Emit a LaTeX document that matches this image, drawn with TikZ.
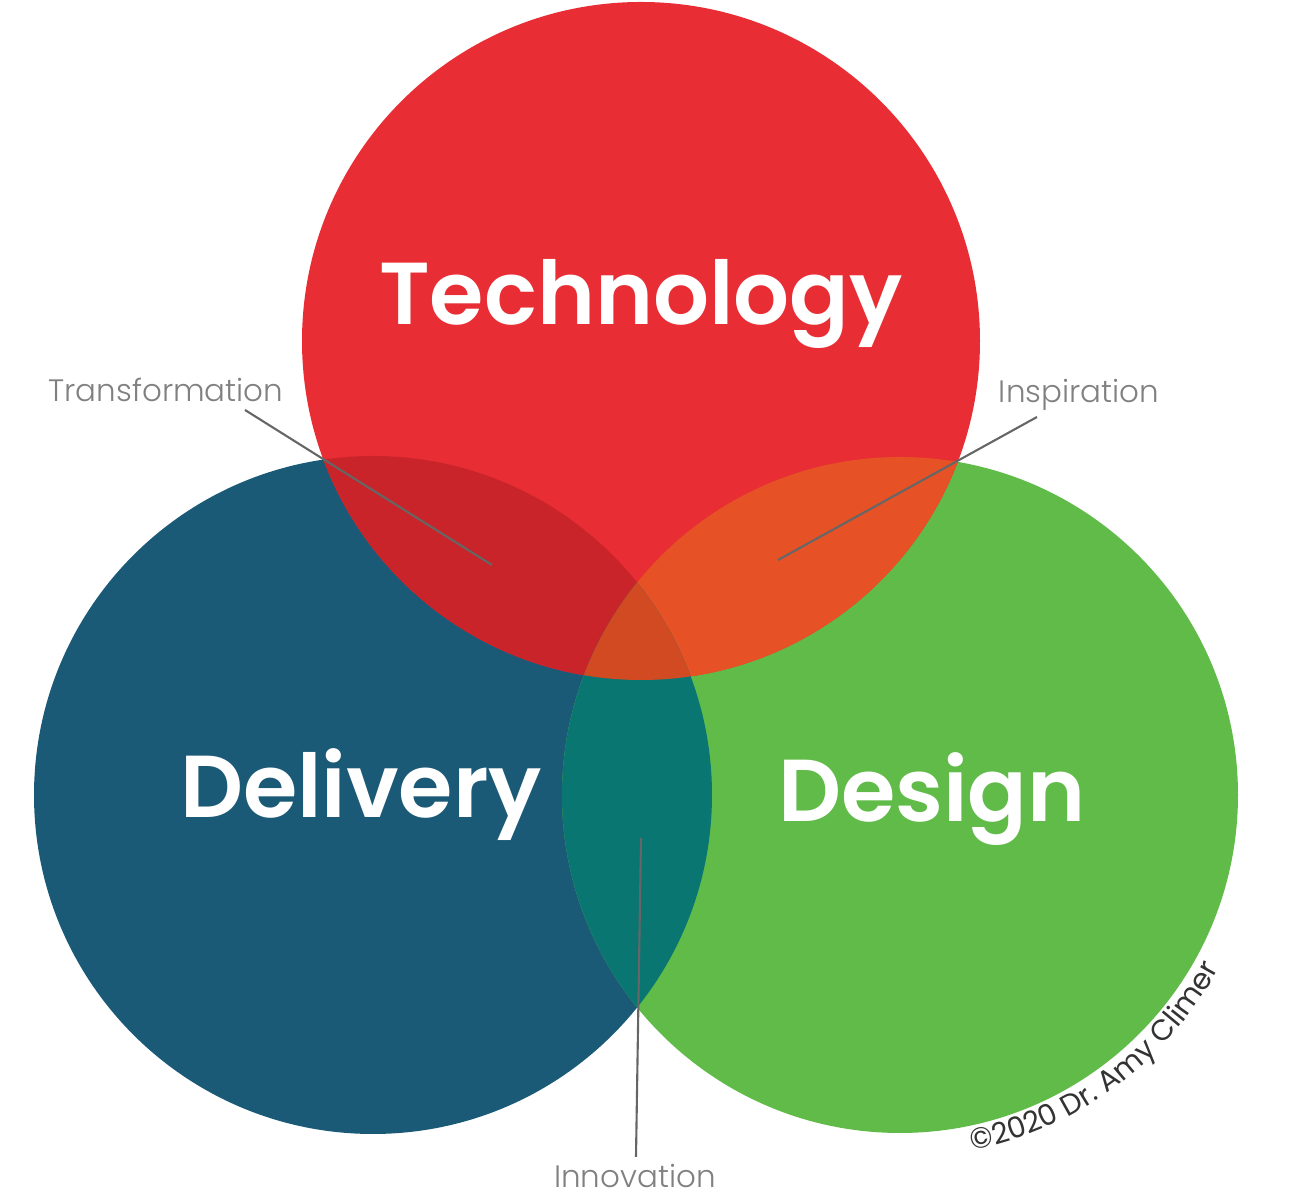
\documentclass[tikz,border=0pt]{standalone}
\usepackage{fontspec}
\setmainfont{Poppins}
\newfontfamily\headfont{Poppins SemiBold}
\newfontfamily\thinfont{Poppins Light}
\usepackage{tikz}
\usetikzlibrary{decorations.text}

\definecolor{techred}{RGB}{232,46,52}
\definecolor{delblue}{RGB}{27,90,119}
\definecolor{desgreen}{RGB}{96,187,72}
\definecolor{redblue}{RGB}{200,36,41}
\definecolor{redgreen}{RGB}{230,82,38}
\definecolor{bluegreen}{RGB}{9,118,114}
\definecolor{allthree}{RGB}{210,74,34}
\definecolor{leadgray}{RGB}{102,102,102}

\newcommand{\techcirc}{(641,859) circle[radius=339]}
\newcommand{\delcirc}{(373,405) circle[radius=339]}
\newcommand{\descirc}{(900,405) circle[radius=338]}

\begin{document}
\begin{tikzpicture}[x=0.01cm,y=0.01cm,
	head/.style={anchor=base,text=white,font=\headfont\fontsize{25}{30}\selectfont},
	small/.style={anchor=base,text=black!50,font=\thinfont\fontsize{8.8}{11}\selectfont},
	leader/.style={draw=leadgray,line width=0.6pt}]
		\useasboundingbox (0,0) rectangle (1314,1200);
		% the three circles
		\fill [delblue] \delcirc;
		\fill [desgreen] \descirc;
		\fill [techred] \techcirc;
		% overlaps
		\begin{scope}
			\clip \techcirc;
			\fill [redblue] \delcirc;
			\fill [redgreen] \descirc;
		\end{scope}
		\begin{scope}
			\clip \delcirc;
			\fill [bluegreen] \descirc;
		\end{scope}
		\begin{scope}
			\clip \techcirc;
			\clip \delcirc;
			\fill [allthree] \descirc;
		\end{scope}
		% names
		\node (tech) at (641,875) [head] {Technology};
		\node (deliv) at (361,382) [head] {Delivery};
		\node (dsgn) at (932,378) [head] {Design};
		% overlap labels
		\node (transf) at (166,798) [small] {Transformation};
		\node (inspir) at (1079,797) [small] {Inspiration};
		\node (innov) at (635,12) [small] {Innovation};
		\coordinate (transfA) at (245,790);
		\coordinate (transfB) at (492,635);
		\coordinate (inspirA) at (1037,783);
		\coordinate (inspirB) at (778,640);
		\coordinate (innovA) at (641,362);
		\coordinate (innovB) at (636,43);
		\draw [leader] (transfA)--(transfB);
		\draw [leader] (inspirA)--(inspirB);
		\draw [leader] (innovA)--(innovB);
		% copyright
		\path [decorate,decoration={text along path,text align=center,
			text={|\fontsize{8.3}{10}\selectfont\color{black!80}|©2020 Dr. Amy Climer}}]
			(900,405) ++(-80:363) arc[start angle=-80,end angle=-27,radius=363];
    \end{tikzpicture}
\end{document}
